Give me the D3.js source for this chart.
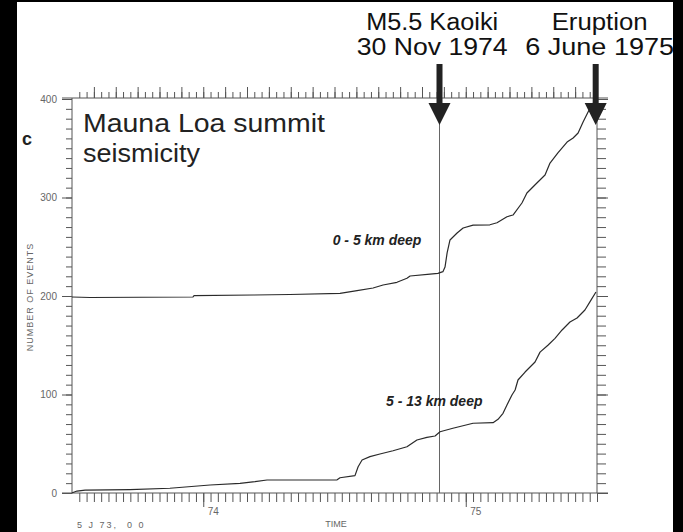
<!DOCTYPE html>
<html>
<head>
<meta charset="utf-8">
<script src="https://cdn.jsdelivr.net/npm/d3@7"></script>
<style>
  html, body { margin: 0; padding: 0; background: #fff; }
  svg { display: block; }
</style>
</head>
<body>
<div id="chart"></div>
<script>
// cumulative event counts, [decimal year, plotted count]
// shallow series is drawn offset by +200 in the original figure
const shallowSeries = [
    [1973.500, 199], [1973.569, 198.5], [1973.961, 199], [1973.965, 200.3], [1974.190, 201],
    [1974.330, 201.5], [1974.521, 202.7], [1974.586, 205.4], [1974.647, 208.1], [1974.685, 211.2],
    [1974.738, 213.9], [1974.776, 218], [1974.788, 220.3], [1974.864, 222.3], [1974.894, 223],
    [1974.913, 224.7], [1974.921, 229.4], [1974.929, 243.7], [1974.940, 256.9], [1974.967, 264],
    [1974.990, 269], [1975.028, 272], [1975.092, 272.3], [1975.119, 274.4], [1975.157, 280.5],
    [1975.180, 282.2], [1975.214, 294.4], [1975.233, 304.6], [1975.271, 314.7], [1975.302, 322.8],
    [1975.321, 335], [1975.351, 345.2], [1975.386, 356.3], [1975.409, 360.4], [1975.428, 365.5],
    [1975.447, 376.6], [1975.466, 386.8], [1975.485, 395.9]
];

const deepSeries = [
    [1973.500, 0], [1973.504, 0.5], [1973.519, 2], [1973.550, 3], [1973.721, 3.5],
    [1973.873, 4.8], [1974.026, 8.1], [1974.140, 9.8], [1974.197, 11.5], [1974.243, 13.2],
    [1974.510, 13.4], [1974.521, 15.5], [1974.578, 17.6], [1974.590, 26.7], [1974.605, 33.5],
    [1974.635, 36.9], [1974.673, 39.6], [1974.723, 42.9], [1974.776, 47], [1974.814, 53.8],
    [1974.852, 56.5], [1974.883, 57.9], [1974.902, 62.2], [1974.951, 65.7], [1975.028, 70.8],
    [1975.104, 71.4], [1975.123, 74.8], [1975.142, 80.9], [1975.157, 89.3], [1975.176, 99.5],
    [1975.188, 104.6], [1975.199, 114.7], [1975.226, 122.8], [1975.264, 133], [1975.283, 143],
    [1975.313, 150], [1975.340, 157], [1975.367, 165.5], [1975.397, 173.6], [1975.424, 177.7],
    [1975.454, 185.8], [1975.473, 194], [1975.496, 204]
];

const yTickMajor = [0, 100, 200, 300, 400];
const yTickMinor = d3.range(0, 401, 10);
const xTickMinor = d3.range(0, 73).map(i => 1973.5 + i / 36);   // ~10 day marks
const xTickMonth = d3.range(0, 25).map(i => 1973.5 + i / 12);
const xTickYear = [1974, 1975];
const xYearLabels = ['74', '75'];

// annotations at the top; x = arrow position, tx = text centre (decimal years)
const events = [
    {x: 1974.900, tx: 1974.872, lines: ['M5.5 Kaoiki', '30 Nov 1974'], widths: [132, 151], line: true},
    {x: 1975.495, tx: 1975.510, lines: ['Eruption', '6 June 1975'], widths: [96, 149], line: false}
];

const seriesLabels = [
    {text: '0 - 5 km deep', x: 1974.662, y: 251.5},
    {text: '5 - 13 km deep', x: 1974.880, y: 88}
];

const width = 683;
const height = 532;

const svg = d3.select('#chart').append('svg')
    .attr('width', width)
    .attr('height', height)
    .attr('viewBox', [0, 0, width, height]);

const x = d3.scaleLinear().domain([1973.5, 1975.5]).range([72, 597]);
const y = d3.scaleLinear().domain([0, 400]).range([493, 99]);

const ink = '#2a2a2a';
const tickColor = '#555';
const smallFont = '"Liberation Sans", Arial, sans-serif';
const bigFont = '"Liberation Sans", Arial, Helvetica, sans-serif';

// frame lines (top and bottom run a bit past the axes)
svg.append('line').attr('x1', 62).attr('x2', 608).attr('y1', y(400) - 1).attr('y2', y(400) - 1)
    .attr('stroke', tickColor);
svg.append('line').attr('x1', 62).attr('x2', 608).attr('y1', y(0)).attr('y2', y(0))
    .attr('stroke', tickColor);

function styleAxis(g) {
    g.select('.domain').remove();
    g.selectAll('.tick line').attr('stroke', tickColor);
    g.selectAll('.tick text').attr('fill', '#666')
        .style('font-family', smallFont)
        .style('font-size', '10px');
}

// left axis
svg.append('g').attr('transform', `translate(${x.range()[0]},0)`)
    .call(d3.axisLeft(y).tickValues(yTickMinor).tickSize(6).tickFormat(''))
    .call(styleAxis);
svg.append('g').attr('transform', `translate(${x.range()[0]},0)`)
    .call(d3.axisLeft(y).tickValues(yTickMajor).tickSize(10).tickPadding(5))
    .call(styleAxis);
svg.append('line').attr('x1', 72).attr('x2', 72).attr('y1', y(400) - 1).attr('y2', y(0))
    .attr('stroke', tickColor);

// right axis
svg.append('g').attr('transform', `translate(${x.range()[1]},0)`)
    .call(d3.axisRight(y).tickValues(yTickMinor).tickSize(9).tickFormat(''))
    .call(styleAxis);
svg.append('g').attr('transform', `translate(${x.range()[1]},0)`)
    .call(d3.axisRight(y).tickValues(yTickMajor).tickSize(11).tickFormat(''))
    .call(styleAxis);
svg.append('line').attr('x1', 597).attr('x2', 597).attr('y1', y(400) - 1).attr('y2', y(0))
    .attr('stroke', tickColor);

// top axis
svg.append('g').attr('transform', `translate(0,${y(400) - 1})`)
    .call(d3.axisTop(x).tickValues(xTickMinor.slice(1)).tickSize(6).tickFormat(''))
    .call(styleAxis);
svg.append('g').attr('transform', `translate(0,${y(400) - 1})`)
    .call(d3.axisTop(x).tickValues(xTickMonth.slice(1)).tickSize(11).tickFormat(''))
    .call(styleAxis);

// bottom axis
svg.append('g').attr('transform', `translate(0,${y(0)})`)
    .call(d3.axisBottom(x).tickValues(xTickMinor.slice(1)).tickSize(9).tickFormat(''))
    .call(styleAxis);
const yearAxis = svg.append('g').attr('transform', `translate(0,${y(0)})`)
    .call(d3.axisBottom(x).tickValues(xTickYear).tickSize(14)
        .tickFormat((d, i) => xYearLabels[i]).tickPadding(1))
    .call(styleAxis);
yearAxis.selectAll('.tick text').attr('text-anchor', 'start').attr('x', 4);

// axis titles
svg.append('text')
    .attr('transform', 'translate(33,297) rotate(-90)')
    .attr('text-anchor', 'middle')
    .attr('fill', '#666')
    .style('font-family', smallFont)
    .style('font-size', '9px')
    .style('letter-spacing', '1px')
    .text('NUMBER OF EVENTS');
svg.append('text')
    .attr('x', 336).attr('y', 527)
    .attr('text-anchor', 'middle')
    .attr('fill', '#666')
    .style('font-family', smallFont)
    .style('font-size', '9px')
    .text('TIME');
svg.append('text')
    .attr('x', 77).attr('y', 528)
    .attr('fill', '#666')
    .style('font-family', smallFont)
    .style('font-size', '9px')
    .style('letter-spacing', '2px')
    .style('white-space', 'pre')
    .text('5 J 73,  0 0');

// panel letter
svg.append('text')
    .attr('x', 22).attr('y', 145)
    .attr('fill', '#222')
    .style('font-family', smallFont)
    .style('font-weight', 'bold')
    .style('font-size', '18px')
    .text('c');

// event line for Kaoiki
events.filter(e => e.line).forEach(e => {
    svg.append('line')
        .attr('x1', x(e.x)).attr('x2', x(e.x))
        .attr('y1', 115).attr('y2', y(0))
        .attr('stroke', '#666').attr('stroke-width', 1);
});

// curves
const line = d3.line().x(d => x(d[0])).y(d => y(d[1]));
[shallowSeries, deepSeries].forEach(s => {
    svg.append('path')
        .datum(s)
        .attr('d', line)
        .attr('fill', 'none')
        .attr('stroke', ink)
        .attr('stroke-width', 1.2)
        .attr('stroke-linejoin', 'round');
});

// series labels
seriesLabels.forEach(l => {
    svg.append('text')
        .attr('x', x(l.x)).attr('y', y(l.y))
        .attr('text-anchor', 'middle')
        .attr('fill', '#222')
        .style('font-family', smallFont)
        .style('font-weight', 'bold')
        .style('font-style', 'italic')
        .style('font-size', '14px')
        .text(l.text);
});

// title inside the plot
[['Mauna Loa summit', 132, 242], ['seismicity', 162, 117]].forEach(([t, yy, w]) => {
    svg.append('text')
        .attr('x', 83).attr('y', yy)
        .attr('fill', '#222')
        .attr('textLength', w)
        .attr('lengthAdjust', 'spacingAndGlyphs')
        .style('font-family', bigFont)
        .style('font-size', '26px')
        .text(t);
});

// annotations with arrows
events.forEach(e => {
    const cx = x(e.x);
    e.lines.forEach((t, i) => {
        svg.append('text')
            .attr('x', x(e.tx)).attr('y', 30 + i * 25)
            .attr('text-anchor', 'middle')
            .attr('fill', '#111')
            .attr('textLength', e.widths[i])
            .attr('lengthAdjust', 'spacingAndGlyphs')
            .style('font-family', bigFont)
            .style('font-size', '23px')
            .text(t);
    });
    svg.append('rect')
        .attr('x', cx - 3).attr('y', 64)
        .attr('width', 6).attr('height', 42)
        .attr('fill', '#222');
    svg.append('path')
        .attr('d', `M${cx - 11},103 L${cx + 11},103 L${cx},125 Z`)
        .attr('fill', '#222');
});

// black scan borders
svg.append('rect').attr('x', 0).attr('y', 0).attr('width', 17).attr('height', height).attr('fill', '#000');
svg.append('rect').attr('x', 673).attr('y', 0).attr('width', 10).attr('height', height).attr('fill', '#000');
svg.append('rect').attr('x', 0).attr('y', 0).attr('width', width).attr('height', 2).attr('fill', '#000');
</script>
</body>
</html>
